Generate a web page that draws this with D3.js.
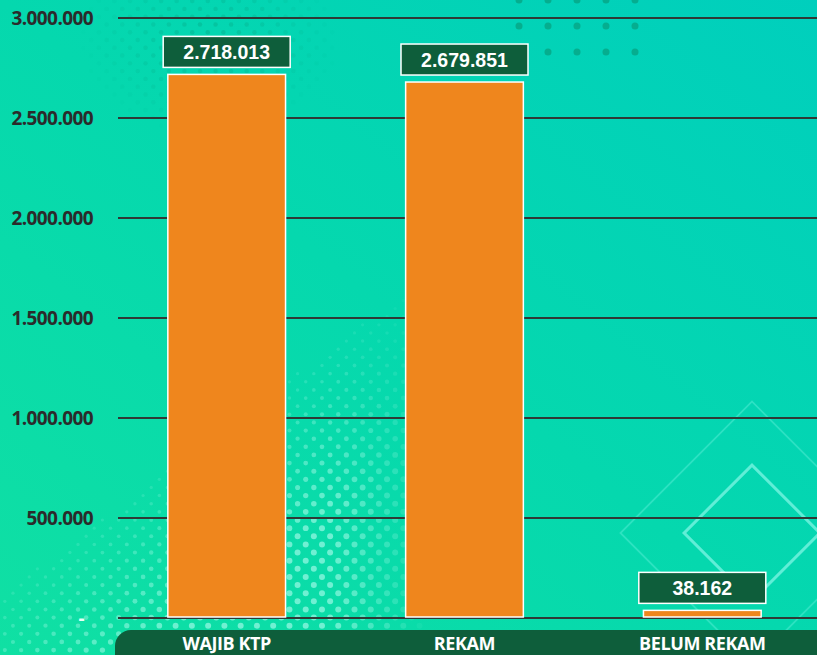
<!DOCTYPE html>
<html>
<head>
<meta charset="utf-8">
<script src="https://cdn.jsdelivr.net/npm/d3@7"></script>
<style>
  body { margin: 0; overflow: hidden; }
  svg { display: block; }
</style>
</head>
<body>
<div id="chart"></div>
<script>
var categories = ["WAJIB KTP", "REKAM", "BELUM REKAM"];
var values = [2718013, 2679851, 38162];
var tickValues = [0, 500000, 1000000, 1500000, 2000000, 2500000, 3000000];

var width = 817, height = 655;
var fmt = function (v) { return v === 0 ? "-" : d3.format(",")(v).replace(/,/g, "."); };

var svg = d3.select("#chart").append("svg")
    .attr("width", width)
    .attr("height", height);

var defs = svg.append("defs");
var grad = defs.append("linearGradient").attr("id", "bg")
    .attr("x1", "0%").attr("y1", "100%").attr("x2", "100%").attr("y2", "0%");
grad.append("stop").attr("offset", "0%").attr("stop-color", "#10e0a3");
grad.append("stop").attr("offset", "50%").attr("stop-color", "#05d8ae");
grad.append("stop").attr("offset", "100%").attr("stop-color", "#00cfbd");

svg.append("rect").attr("width", width).attr("height", height).attr("fill", "url(#bg)");

// background decoration
var deco = svg.append("g");

// dark dots, top right block
d3.range(5).forEach(function (c) {
  d3.range(3).forEach(function (r) {
    deco.append("circle")
      .attr("cx", 519 + c * 29).attr("cy", r * 26).attr("r", 3.5)
      .attr("fill", "#0a8f6e").attr("opacity", 0.55);
  });
});

// faint dark dots, top left (diagonal grid)
var s = 11;
for (var i = -40; i < 40; i++) {
  for (var j = -40; j < 40; j++) {
    var px = 200 + (i - j) * s * 0.7071, py = 40 + (i + j) * s * 0.7071;
    var dd = Math.hypot((px - 210) / 130, (py - 40) / 95);
    if (dd > 1 || py < 0) continue;
    deco.append("circle").attr("cx", px).attr("cy", py).attr("r", 2.2)
      .attr("fill", "#079a78").attr("opacity", 0.35 * (1 - dd));
  }
}

// light dots, bottom left (diagonal grid)
for (var a = -80; a < 80; a++) {
  for (var b = -80; b < 80; b++) {
    var qx = 200 + (a - b) * 11.5 * 0.7071, qy = 520 + (a + b) * 11.5 * 0.7071;
    if (qx < 0 || qx > 430 || qy > 660) continue;
    var edge = 595 - 0.75 * qx;
    if (qy < edge) continue;
    var t = Math.min(1, (qy - edge) / 170);
    var fadeR = qx > 330 ? Math.max(0, (430 - qx) / 100) : 1;
    deco.append("circle").attr("cx", qx).attr("cy", qy).attr("r", 1.6 + 1.4 * t)
      .attr("fill", "#a8fbe9").attr("opacity", (0.15 + 0.5 * t) * fadeR);
  }
}

// diamonds, bottom right
deco.append("rect").attr("x", -100).attr("y", -100).attr("width", 200).attr("height", 200)
  .attr("transform", "translate(752,533) rotate(45) scale(0.93)")
  .attr("fill", "none").attr("stroke", "#5ff0da").attr("stroke-width", 2).attr("opacity", 0.45);
deco.append("rect").attr("x", -48).attr("y", -48).attr("width", 96).attr("height", 96)
  .attr("transform", "translate(752,533) rotate(45)")
  .attr("fill", "none").attr("stroke", "#7ff5e4").attr("stroke-width", 3).attr("opacity", 0.75);

var y = d3.scaleLinear().domain([0, 3000000]).range([618, 18]);
var x = d3.scaleBand().domain(categories).range([106, 823]).paddingInner(0.505).paddingOuter(0.26);

// gridlines
svg.append("g").selectAll("line")
  .data(tickValues)
  .enter().append("line")
    .attr("x1", 118).attr("x2", width)
    .attr("y1", function (d) { return y(d); })
    .attr("y2", function (d) { return y(d); })
    .attr("stroke", "#2f3a36").attr("stroke-width", 2);

// y labels
svg.append("g").selectAll("text")
  .data(tickValues)
  .enter().append("text")
    .attr("x", function (d) { return d === 0 ? 84 : 93; })
    .attr("y", function (d) { return y(d); })
    .attr("dy", "0.36em")
    .attr("text-anchor", "end")
    .attr("font-family", "'Open Sans', sans-serif")
    .attr("font-weight", "bold")
    .attr("font-size", 19)
    .attr("letter-spacing", -0.6)
    .attr("fill", function (d) { return d === 0 ? "#e8fff8" : "#2b2b2b"; })
    .text(fmt);

// bars
svg.append("g").selectAll("rect")
  .data(values)
  .enter().append("rect")
    .attr("x", function (d, i) { return x(categories[i]); })
    .attr("y", function (d) { return y(d); })
    .attr("width", x.bandwidth())
    .attr("height", function (d) { return y(0) - y(d) - 1; })
    .attr("fill", "#ef861d")
    .attr("stroke", "#ffffff").attr("stroke-width", 1.5);

// value boxes
var boxW = 127, boxH = 31;
var labels = svg.append("g").selectAll("g")
  .data(values)
  .enter().append("g")
    .attr("transform", function (d, i) {
      var cx = x(categories[i]) + x.bandwidth() / 2;
      return "translate(" + (cx - boxW / 2) + "," + (y(d) - 7 - boxH) + ")";
    });
labels.append("rect")
    .attr("width", boxW).attr("height", boxH)
    .attr("fill", "#0e5e3b")
    .attr("stroke", "#ffffff").attr("stroke-width", 1.5);
labels.append("text")
    .attr("x", boxW / 2).attr("y", boxH / 2)
    .attr("dy", "0.36em")
    .attr("text-anchor", "middle")
    .attr("font-family", "'Liberation Sans', Arial, sans-serif")
    .attr("font-weight", "bold")
    .attr("font-size", 19.5)
    .attr("fill", "#ffffff")
    .text(fmt);

// category band at bottom
svg.append("rect")
    .attr("x", 115).attr("y", 630)
    .attr("width", 730).attr("height", 50)
    .attr("rx", 16).attr("ry", 16)
    .attr("fill", "#0e5e3b");

svg.append("g").selectAll("text")
  .data(categories)
  .enter().append("text")
    .attr("x", function (d) { return x(d) + x.bandwidth() / 2; })
    .attr("y", 650)
    .attr("text-anchor", "middle")
    .attr("font-family", "'Open Sans', sans-serif")
    .attr("font-weight", "bold")
    .attr("font-size", 18)
    .attr("letter-spacing", -0.4)
    .attr("fill", "#ffffff")
    .text(function (d) { return d; });
</script>
</body>
</html>
